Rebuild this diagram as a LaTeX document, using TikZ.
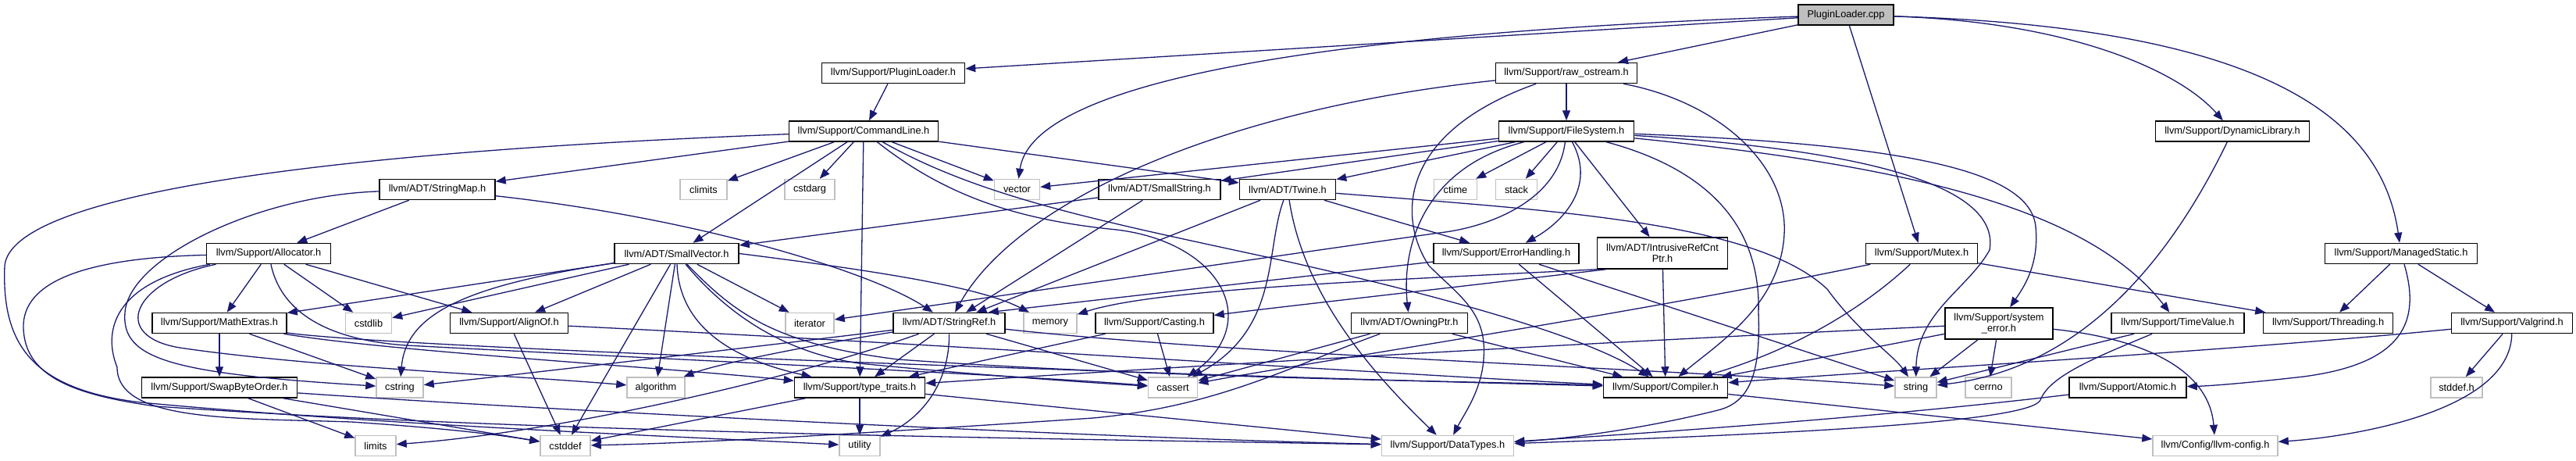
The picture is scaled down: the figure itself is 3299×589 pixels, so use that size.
\documentclass[tikz,border=0pt]{standalone}
\usepackage{fontspec}
\setmainfont{Liberation Sans}
\usetikzlibrary{arrows.meta}
\definecolor{edgeblue}{HTML}{191970}
\definecolor{greyseventyfive}{HTML}{BFBFBF}
\begin{document}
\begin{tikzpicture}[x=1pt,y=-1pt,
  hdr/.style={draw=black, line width=1.5pt, fill=white, inner sep=0pt, minimum height=26pt, font=\fontsize{12.8}{14}\selectfont},
  ext/.style={hdr, draw=greyseventyfive},
  root/.style={hdr, fill=greyseventyfive},
  twoline/.style={align=center, minimum height=40pt},
  dep/.style={draw=edgeblue, line width=1.3pt, -{Triangle[length=13pt,width=10pt]}}]
\fill[white] (0,0) rectangle (3299,589);
\useasboundingbox (0,0) rectangle (3299,589);
% row 0
\node[root, minimum width=122pt] (cpp) at (2364,19) {PluginLoader.cpp};
% row 1
\node[hdr, minimum width=183pt] (plh) at (1144,93.5) {llvm/Support/PluginLoader.h};
\node[hdr, minimum width=181pt] (raw) at (2006,93.5) {llvm/Support/raw\_ostream.h};
% row 2
\node[hdr, minimum width=191pt] (cl) at (1106,168) {llvm/Support/CommandLine.h};
\node[hdr, minimum width=173pt] (fs) at (2006,168) {llvm/Support/FileSystem.h};
\node[hdr, minimum width=197pt] (dl) at (2859,168) {llvm/Support/DynamicLibrary.h};
% row 3
\node[hdr, minimum width=148pt] (smap) at (560,242.5) {llvm/ADT/StringMap.h};
\node[ext, minimum width=60pt] (climits) at (901,242.5) {climits};
\node[ext, minimum width=64pt] (cstdarg) at (1037,242.5) {cstdarg};
\node[ext, minimum width=58pt] (vector) at (1302.5,242.5) {vector};
\node[hdr, minimum width=156pt] (sstr) at (1485,242.5) {llvm/ADT/SmallString.h};
\node[hdr, minimum width=123pt] (twine) at (1649,242.5) {llvm/ADT/Twine.h};
\node[ext, minimum width=55pt] (ctime) at (1864,242.5) {ctime};
\node[ext, minimum width=53pt] (stack) at (1942,242.5) {stack};
% row 4
\node[hdr, minimum width=159pt] (alloc) at (344,324.5) {llvm/Support/Allocator.h};
\node[hdr, minimum width=159pt] (svec) at (866.5,324.5) {llvm/ADT/SmallVector.h};
\node[hdr, minimum width=186pt] (err) at (1929,324.5) {llvm/Support/ErrorHandling.h};
\node[hdr, twoline, minimum width=167pt] (irc) at (2129,324) {llvm/ADT/IntrusiveRefCnt\\Ptr.h};
\node[hdr, minimum width=143pt] (mutex) at (2461,324.5) {llvm/Support/Mutex.h};
\node[hdr, minimum width=195pt] (ms) at (3075,324.5) {llvm/Support/ManagedStatic.h};
% row 5
\node[hdr, minimum width=172pt] (math) at (281,413.5) {llvm/Support/MathExtras.h};
\node[ext, minimum width=59pt] (cstdlib) at (472,413.5) {cstdlib};
\node[hdr, minimum width=151pt] (align) at (652,413.5) {llvm/Support/AlignOf.h};
\node[ext, minimum width=62pt] (iter) at (1037,413.5) {iterator};
\node[hdr, minimum width=143pt] (sref) at (1215.5,413.5) {llvm/ADT/StringRef.h};
\node[ext, minimum width=68pt] (memory) at (1345,413.5) {memory};
\node[hdr, minimum width=151pt] (cast) at (1478.5,413.5) {llvm/Support/Casting.h};
\node[hdr, minimum width=149pt] (own) at (1805,413.5) {llvm/ADT/OwningPtr.h};
\node[hdr, twoline, minimum width=138pt] (syserr) at (2560,414) {llvm/Support/system\\\_error.h};
\node[hdr, minimum width=170pt] (tv) at (2789,413.5) {llvm/Support/TimeValue.h};
\node[hdr, minimum width=166pt] (thr) at (2981.6,413.5) {llvm/Support/Threading.h};
\node[hdr, minimum width=155pt] (valg) at (3217,413.5) {llvm/Support/Valgrind.h};
% row 6
\node[hdr, minimum width=199pt] (swap) at (281,496) {llvm/Support/SwapByteOrder.h};
\node[ext, minimum width=60pt] (cstring) at (512,496) {cstring};
\node[ext, minimum width=74pt] (algo) at (840,496) {algorithm};
\node[hdr, minimum width=167pt] (tt) at (1101,496) {llvm/Support/type\_traits.h};
\node[ext, minimum width=63pt] (cassert) at (1502,496) {cassert};
\node[hdr, minimum width=159pt] (comp) at (2133,496) {llvm/Support/Compiler.h};
\node[ext, minimum width=53pt] (string) at (2453.5,496) {string};
\node[ext, minimum width=59pt] (cerrno) at (2546.5,496) {cerrno};
\node[hdr, minimum width=150pt] (atomic) at (2725,496) {llvm/Support/Atomic.h};
\node[ext, minimum width=66pt] (stddefh) at (3146,496) {stddef.h};
% row 7
\node[ext, minimum width=52pt] (limits) at (481,570.5) {limits};
\node[ext, minimum width=64pt] (cstddef) at (724,570.5) {cstddef};
\node[ext, minimum width=52pt] (utility) at (1101,570.5) {utility};
\node[ext, minimum width=169pt] (dt) at (1854,570.5) {llvm/Support/DataTypes.h};
\node[ext, minimum width=160pt] (cfg) at (2837,570.5) {llvm/Config/llvm-config.h};

% PluginLoader.cpp
\draw[dep] (cpp) -- (plh);
\draw[dep] (cpp) -- (raw);
\draw[dep] (cpp) .. controls (1600,45) and (1320,120) .. (vector);
\draw[dep] (cpp) -- (mutex);
\draw[dep] (cpp) .. controls (2650,28) and (2790,90) .. (dl);
\draw[dep] (cpp) .. controls (2900,35) and (3050,150) .. (ms);
% PluginLoader.h
\draw[dep] (plh) -- (cl);
% raw_ostream
\draw[dep] (raw) -- (fs);
\draw[dep] (raw) .. controls (1560,140) and (1300,260) .. (sref);
\draw[dep] (raw) .. controls (1790,170) and (1790,280) .. (1830,340) .. controls (1870,380) and (1905,400) .. (1900,460) .. controls (1897,500) and (1875,530) .. (dt);
\draw[dep] (raw) .. controls (2200,130) and (2290,210) .. (2285,300) .. controls (2280,390) and (2200,440) .. (comp);
% FileSystem
\draw[dep] (fs) -- (vector);
\draw[dep] (fs) -- (sstr);
\draw[dep] (fs) -- (twine);
\draw[dep] (fs) -- (ctime);
\draw[dep] (fs) -- (stack);
\draw[dep] (fs) .. controls (1820,215) and (1795,320) .. (own);
\draw[dep] (fs) .. controls (1995,260) and (1900,292) .. (1843,298) -- (iter);
\draw[dep] (fs) .. controls (2045,240) and (2000,285) .. (err);
\draw[dep] (fs) -- (irc);
\draw[dep] (fs) .. controls (2450,185) and (2600,220) .. (2607,290) .. controls (2612,340) and (2590,370) .. (syserr);
\draw[dep] (fs) .. controls (2440,195) and (2560,250) .. (2548,320) .. controls (2520,370) and (2455,400) .. (string);
\draw[dep] (fs) .. controls (2420,210) and (2670,260) .. (tv);
\draw[dep] (fs) .. controls (2200,220) and (2255,300) .. (2252,400) .. controls (2255,480) and (2240,515) .. (2200,525) .. controls (2100,550) and (2000,562) .. (dt);
% CommandLine
\draw[dep] (cl) -- (smap);
\draw[dep] (cl) -- (climits);
\draw[dep] (cl) -- (cstdarg);
\draw[dep] (cl) -- (svec);
\draw[dep] (cl) -- (tt);
\draw[dep] (cl) -- (vector);
\draw[dep] (cl) -- (twine);
\draw[dep] (cl) .. controls (1210,250) and (1300,280) .. (1420,293) .. controls (1560,305) and (1620,410) .. (cassert);
\draw[dep] (cl) .. controls (1260,255) and (1420,285) .. (1650,335) .. controls (1850,380) and (2030,430) .. (comp);
\draw[dep] (cl) .. controls (400,195) and (15,250) .. (6,340) .. controls (2,440) and (40,498) .. (180,515) .. controls (500,545) and (900,560) .. (utility);
% StringMap
\draw[dep] (smap) -- (alloc);
\draw[dep] (smap) .. controls (900,280) and (1120,350) .. (sref);
\draw[dep] (smap) .. controls (330,250) and (165,330) .. (160,400) .. controls (155,460) and (220,478) .. (cstring);
% Allocator
\draw[dep] (alloc) -- (math);
\draw[dep] (alloc) -- (cstdlib);
\draw[dep] (alloc) -- (align);
\draw[dep] (alloc) .. controls (110,330) and (28,360) .. (30,420) .. controls (32,480) and (90,505) .. (200,520) .. controls (700,555) and (1400,562) .. (dt);
\draw[dep] (alloc) .. controls (170,360) and (140,430) .. (230,445) .. controls (400,470) and (650,480) .. (algo);
\draw[dep] (alloc) .. controls (150,360) and (130,420) .. (150,470) .. controls (150,540) and (300,535) .. (450,540) .. controls (600,550) and (660,560) .. (cstddef);
\draw[dep] (alloc) .. controls (360,400) and (420,435) .. (520,442) .. controls (900,462) and (1300,480) .. (cassert);
% MathExtras
\draw[dep] (math) -- (swap);
\draw[dep] (math) -- (cstring);
\draw[dep] (math) .. controls (500,445) and (1500,480) .. (comp);
\draw[dep] (math) .. controls (500,450) and (850,470) .. (tt);
% SwapByteOrder
\draw[dep] (swap) -- (limits);
\draw[dep] (swap) -- (cstddef);
\draw[dep] (swap) .. controls (700,525) and (1400,560) .. (dt);
% AlignOf
\draw[dep] (align) -- (cstddef);
\draw[dep] (align) .. controls (1200,440) and (1800,480) .. (comp);
% SmallVector
\draw[dep] (svec) -- (align);
\draw[dep] (svec) -- (cstddef);
\draw[dep] (svec) -- (algo);
\draw[dep] (svec) .. controls (870,420) and (940,460) .. (tt);
\draw[dep] (svec) .. controls (930,400) and (1000,450) .. (1100,465) .. controls (1250,480) and (1400,490) .. (cassert);
\draw[dep] (svec) .. controls (940,400) and (990,440) .. (1150,460) .. controls (1500,485) and (1900,488) .. (comp);
\draw[dep] (svec) -- (iter);
\draw[dep] (svec.east) .. controls (1150,350) and (1260,370) .. (memory);
\draw[dep] (svec) -- (math);
\draw[dep] (svec) -- (cstdlib);
\draw[dep] (svec) .. controls (600,365) and (520,400) .. (cstring);
% StringRef
\draw[dep] (sref) -- (tt);
\draw[dep] (sref) .. controls (1216,500) and (1170,540) .. (utility);
\draw[dep] (sref) -- (cassert);
\draw[dep] (sref) .. controls (1600,455) and (2100,470) .. (string);
\draw[dep] (sref) .. controls (1050,440) and (920,465) .. (algo);
\draw[dep] (sref) .. controls (1000,440) and (700,475) .. (cstring);
\draw[dep] (sref) .. controls (1000,490) and (700,555) .. (limits);
% Casting
\draw[dep] (cast) -- (tt);
\draw[dep] (cast) -- (cassert);
% Twine
\draw[dep] (twine) -- (sref);
\draw[dep] (twine) .. controls (1620,320) and (1640,420) .. (cassert);
\draw[dep] (twine) .. controls (1670,380) and (1760,480) .. (dt);
\draw[dep] (twine) -- (err);
\draw[dep] (twine) .. controls (2000,270) and (2250,285) .. (2340,370) .. controls (2380,425) and (2425,455) .. (string);
% SmallString
\draw[dep] (sstr) -- (svec);
\draw[dep] (sstr) -- (sref);
% ErrorHandling
\draw[dep] (err) -- ([xshift=-22pt]sref.north east);
\draw[dep] (err) -- (comp);
\draw[dep] (err) -- (string);
% IntrusiveRefCntPtr
\draw[dep] (irc.south west) .. controls (1750,360) and (1480,370) .. (memory);
\draw[dep] ([xshift=12pt]irc.south west) .. controls (1800,375) and (1620,395) .. (cast);
\draw[dep] (irc) -- (comp);
% OwningPtr
\draw[dep] (own) -- (comp);
\draw[dep] (own) -- (cassert);
\draw[dep] (own) .. controls (1650,470) and (1560,520) .. (1400,535) .. controls (1100,555) and (900,567) .. (cstddef);
% Mutex
\draw[dep] (mutex) .. controls (2380,400) and (2290,450) .. (comp);
\draw[dep] (mutex) .. controls (2100,400) and (1700,460) .. (cassert);
\draw[dep] (mutex) -- (thr);
% system_error
\draw[dep] (syserr) .. controls (2000,440) and (1500,470) .. (tt);
\draw[dep] (syserr) -- (comp);
\draw[dep] (syserr) -- (string);
\draw[dep] (syserr) -- (cerrno);
\draw[dep] (syserr) .. controls (2760,435) and (2830,480) .. (cfg);
% TimeValue
\draw[dep] (tv) -- (string);
\draw[dep] (tv) .. controls (2690,455) and (2625,480) .. (2613,512) .. controls (2600,540) and (2300,555) .. (dt);
% ManagedStatic
\draw[dep] (ms) -- (thr);
\draw[dep] (ms) -- (valg);
\draw[dep] (ms) .. controls (3100,410) and (3080,465) .. (2950,482) .. controls (2880,490) and (2830,494) .. (atomic);
% Valgrind
\draw[dep] (valg) -- (stddefh);
\draw[dep] (valg) .. controls (3215,530) and (3000,560) .. (cfg);
\draw[dep] (valg) .. controls (2850,450) and (2400,475) .. (comp);
% Compiler, Atomic, DynamicLibrary, type_traits
\draw[dep] (comp) -- (cfg);
\draw[dep] (atomic) .. controls (2400,535) and (2100,555) .. (dt);
\draw[dep] (dl) .. controls (2790,310) and (2680,470) .. (string);
\draw[dep] (tt) -- (cstddef);
\draw[dep] (tt) -- (utility);
\draw[dep] (tt) -- (dt);
\end{tikzpicture}
\end{document}
